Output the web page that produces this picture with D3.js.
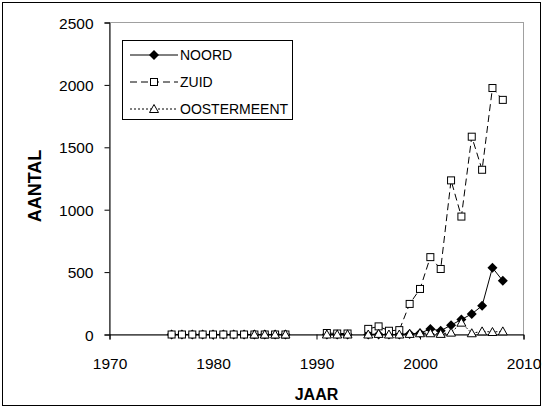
<!DOCTYPE html>
<html>
<head>
<meta charset="utf-8">
<script src="https://cdn.jsdelivr.net/npm/d3@7"></script>
<style>
body { margin: 0; background: #fff; }
text { font-family: "Liberation Sans", Arial, sans-serif; }
</style>
</head>
<body>
<div class="chart"></div>
<script>
// NOORD series
var noordYears = [1976, 1977, 1978, 1979, 1980, 1981, 1982, 1983, 1984, 1985, 1986, 1987,
				  1991, 1992, 1993,
				  1995, 1996, 1997, 1998, 1999, 2000, 2001, 2002, 2003, 2004, 2005, 2006, 2007, 2008];
var noordValues = [0, 0, 0, 0, 0, 0, 0, 0, 0, 0, 0, 0,
				   0, 0, 0,
				   0, 0, 0, 0, 5, 10, 45, 30, 75, 120, 165, 230, 535, 430];

// ZUID series
var zuidYears = [1976, 1977, 1978, 1979, 1980, 1981, 1982, 1983, 1984, 1985, 1986, 1987,
				 1991, 1992, 1993,
				 1995, 1996, 1997, 1998, 1999, 2000, 2001, 2002, 2003, 2004, 2005, 2006, 2007, 2008];
var zuidValues = [0, 0, 0, 0, 0, 0, 0, 0, 0, 0, 0, 0,
				  12, 8, 8,
				  45, 65, 30, 35, 245, 365, 620, 525, 1235, 945, 1585, 1320, 1975, 1880];

// OOSTERMEENT series
var oostYears = [1984, 1985, 1986, 1987,
				 1991, 1992, 1993,
				 1995, 1996, 1997, 1998, 1999, 2000, 2001, 2002, 2003, 2004, 2005, 2006, 2007, 2008];
var oostValues = [0, 0, 0, 0,
				  0, 0, 0,
				  0, 5, 0, 0, 5, 10, 10, 5, 15, 95, 10, 25, 20, 25];

var xTicks = [1970, 1980, 1990, 2000, 2010];
var yTicks = [0, 500, 1000, 1500, 2000, 2500];
var seriesNames = ["NOORD", "ZUID", "OOSTERMEENT"];

var width = 543;
var height = 408;

var svg = d3.select(".chart").append("svg")
	.attr("width", width)
	.attr("height", height);

// outer chart border
svg.append("rect")
	.attr("x", 2.5).attr("y", 2.5)
	.attr("width", width - 5).attr("height", height - 5)
	.attr("fill", "#fff")
	.attr("stroke", "#000");

var x = d3.scaleLinear().domain([1970, 2010]).range([109.5, 523.5]);
var y = d3.scaleLinear().domain([0, 2500]).range([334.5, 22.5]);

// plot area border (grey)
svg.append("rect")
	.attr("x", x(1970)).attr("y", y(2500))
	.attr("width", x(2010) - x(1970)).attr("height", y(0) - y(2500))
	.attr("fill", "none")
	.attr("stroke", "#a0a0a0");

var xAxis = svg.append("g")
	.attr("transform", "translate(0," + y(0) + ")")
	.call(d3.axisBottom(x).tickValues(xTicks).tickFormat(d3.format("d")).tickSize(5).tickPadding(18));

var yAxis = svg.append("g")
	.attr("transform", "translate(" + x(1970) + ",0)")
	.call(d3.axisLeft(y).tickValues(yTicks).tickFormat(d3.format("d")).tickSize(5).tickPadding(11));

[xAxis, yAxis].forEach(function(ax) {
	ax.select(".domain").attr("stroke", "#000");
	ax.selectAll(".tick line").attr("stroke", "#000");
	ax.selectAll("text")
		.attr("font-size", 15.5)
		.attr("fill", "#000")
		.attr("font-family", "Liberation Sans, Arial, sans-serif");
});
yAxis.selectAll("text").attr("dy", "0.36em");

// axis titles
svg.append("text")
	.attr("x", (x(1970) + x(2010)) / 2)
	.attr("y", 400)
	.attr("text-anchor", "middle")
	.attr("font-size", 16)
	.attr("font-weight", "bold")
	.text("JAAR");

svg.append("text")
	.attr("transform", "translate(41,186) rotate(-90)")
	.attr("text-anchor", "middle")
	.attr("font-size", 18)
	.attr("font-weight", "bold")
	.text("AANTAL");

function makeSeries(years, values) {
	var pts = [];
	for(var i = 0; i < years.length; i++) {
		// a missing year breaks the line
		if(i > 0 && years[i] - years[i - 1] > 1) {
			pts.push(null);
		}
		pts.push({ year: years[i], value: values[i] });
	}
	return pts;
}

var line = d3.line()
	.defined(function(d) { return d !== null; })
	.x(function(d) { return x(d.year); })
	.y(function(d) { return y(d.value); });

var styles = [
	{ dash: null, marker: "diamond" },
	{ dash: "7,4", marker: "square" },
	{ dash: "2,2", marker: "triangle" }
];

var seriesData = [
	makeSeries(noordYears, noordValues),
	makeSeries(zuidYears, zuidValues),
	makeSeries(oostYears, oostValues)
];

function drawMarker(g, type, cx, cy) {
	if(type === "diamond") {
		g.append("path")
			.attr("d", "M" + cx + "," + (cy - 5) + "L" + (cx + 5) + "," + cy + "L" + cx + "," + (cy + 5) + "L" + (cx - 5) + "," + cy + "Z")
			.attr("fill", "#000");
	}
	else if(type === "square") {
		g.append("rect")
			.attr("x", cx - 3.5).attr("y", cy - 3.5)
			.attr("width", 7).attr("height", 7)
			.attr("fill", "#fff")
			.attr("stroke", "#000");
	}
	else {
		g.append("path")
			.attr("d", "M" + cx + "," + (cy - 4.5) + "L" + (cx + 4.5) + "," + (cy + 3.5) + "L" + (cx - 4.5) + "," + (cy + 3.5) + "Z")
			.attr("fill", "#fff")
			.attr("stroke", "#000");
	}
}

var plot = svg.append("g");

for(var s = 0; s < seriesData.length; s++) {
	var pts = seriesData[s];
	var g = plot.append("g");
	g.append("path")
		.datum(pts)
		.attr("d", line)
		.attr("fill", "none")
		.attr("stroke", "#000")
		.attr("stroke-width", 1)
		.attr("stroke-dasharray", styles[s].dash);

	pts.forEach(function(d) {
		if(d === null) return;
		drawMarker(g, styles[s].marker, x(d.year), y(d.value));
	});
}

// legend
var legend = svg.append("g");
legend.append("rect")
	.attr("x", 122.5).attr("y", 40.5)
	.attr("width", 170).attr("height", 79)
	.attr("fill", "#fff")
	.attr("stroke", "#000");

for(var i = 0; i < seriesNames.length; i++) {
	var ly = 55 + i * 27;
	var lg = legend.append("g");
	lg.append("line")
		.attr("x1", 130).attr("x2", 178)
		.attr("y1", ly).attr("y2", ly)
		.attr("stroke", "#000")
		.attr("stroke-dasharray", styles[i].dash);
	drawMarker(lg, styles[i].marker, 154, ly);
	lg.append("text")
		.attr("x", 180)
		.attr("y", ly)
		.attr("dy", "0.36em")
		.attr("font-size", 14)
		.text(seriesNames[i]);
}
</script>
</body>
</html>
